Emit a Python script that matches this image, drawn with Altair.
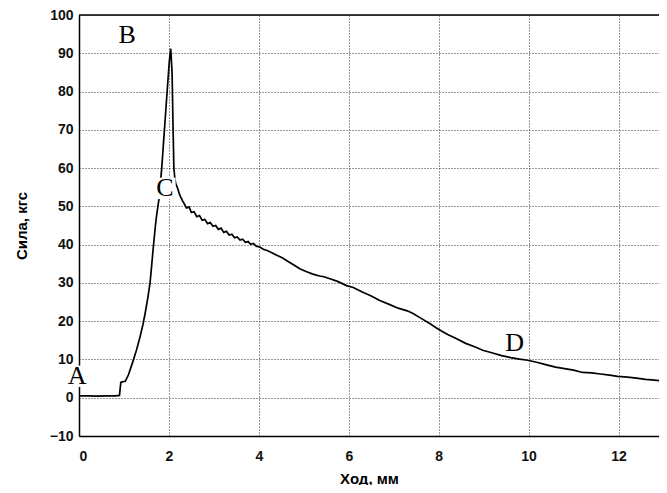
import altair as alt
import pandas as pd

# Curve data
stroke_x = [0.00, 0.20, 0.40, 0.60, 0.80, 0.90, 0.93, 0.98, 1.03, 1.10, 1.20, 1.28,
            1.36, 1.42, 1.47, 1.53, 1.58, 1.62, 1.65, 1.70, 1.73, 1.78, 1.81, 1.84,
            1.90, 1.96, 2.01, 2.04, 2.07, 2.09, 2.11, 2.13, 2.15, 2.20, 2.24, 2.30,
            2.35, 2.39, 2.45, 2.50, 2.56, 2.62, 2.68, 2.74, 2.80, 2.86, 2.92, 2.98,
            3.04, 3.10, 3.16, 3.22, 3.28, 3.34, 3.40, 3.46, 3.52, 3.58, 3.64, 3.70,
            3.76, 3.82, 3.88, 3.94, 4.02, 4.10, 4.20, 4.30, 4.40, 4.53, 4.65, 4.78,
            4.91, 5.05, 5.20, 5.35, 5.45, 5.58, 5.75, 5.95, 6.10, 6.30, 6.50, 6.69,
            6.90, 7.10, 7.30, 7.43, 7.60, 7.80, 7.95, 8.10, 8.20, 8.40, 8.60, 8.80,
            8.98, 9.20, 9.40, 9.60, 9.80, 9.98, 10.20, 10.40, 10.60, 10.80, 11.00,
            11.20, 11.40, 11.60, 11.80, 11.98, 12.20, 12.40, 12.60, 12.80, 13.07]
force_y = [0.5, 0.5, 0.4, 0.5, 0.5, 0.6, 4.0, 4.2, 4.3, 6.0, 9.5, 12.5,
           16.0, 19.0, 22.0, 26.0, 30.0, 35.0, 39.0, 45.0, 48.0, 52.0, 56.0, 60.0,
           70.0, 80.0, 88.0, 91.2, 85.0, 72.0, 60.0, 57.5, 56.0, 54.5, 53.0, 51.5,
           50.5, 49.6, 49.8, 48.4, 48.6, 47.3, 47.6, 46.4, 46.6, 45.5, 45.8, 44.8,
           45.0, 44.0, 44.3, 43.2, 43.5, 42.5, 42.7, 41.8, 42.0, 41.2, 41.4, 40.6,
           40.8, 40.1, 40.3, 39.6, 39.4, 38.8, 38.4, 37.8, 37.2, 36.5, 35.6, 34.7,
           33.7, 33.0, 32.3, 31.8, 31.6, 31.1, 30.4, 29.3, 28.8, 27.6, 26.6, 25.4,
           24.4, 23.4, 22.7, 22.0, 20.8, 19.4, 18.2, 17.2, 16.5, 15.4, 14.2, 13.3,
           12.4, 11.7, 11.0, 10.5, 10.1, 9.8, 9.2, 8.6, 8.0, 7.6, 7.2,
           6.6, 6.5, 6.2, 5.9, 5.6, 5.4, 5.1, 4.8, 4.6, 4.3]

# Point labels
label_text = ["A", "B", "C", "D"]
label_x = [-0.04, 1.07, 1.91, 9.69]
label_y = [5.6, 94.8, 54.7, 14.4]

x_ticks = [0, 2, 4, 6, 8, 10, 12]
y_ticks = [-10, 0, 10, 20, 30, 40, 50, 60, 70, 80, 90, 100]
y_top = [100]

curve = pd.DataFrame({"x": stroke_x, "y": force_y})
labels = pd.DataFrame({"t": label_text, "x": label_x, "y": label_y})
top = pd.DataFrame({"y": y_top})

xs = alt.Scale(domain=[0, 12.9], nice=False, zero=False)
ys = alt.Scale(domain=[-10, 100], nice=False)

x_axis = alt.Axis(values=x_ticks, format="d", labelPadding=13, titlePadding=8,
                  labelOverlap=False)
y_axis = alt.Axis(values=y_ticks, format="d", labelPadding=6, titlePadding=20,
                  labelOverlap=False)

x_enc = alt.X("x:Q", scale=xs, title="Ход, мм", axis=x_axis)
y_enc = alt.Y("y:Q", scale=ys, title="Сила, кгс", axis=y_axis)

line = alt.Chart(curve).mark_line(color="black", strokeWidth=1.7, clip=True).encode(
    x=x_enc, y=y_enc
)

top_rule = alt.Chart(top).mark_rule(color="black", strokeWidth=1.5).encode(
    y=y_enc
)

# white patch behind each letter (as in the reference)
patch = alt.Chart(labels).mark_square(
    size=460, color="white", opacity=1, filled=True
).encode(x=x_enc, y=y_enc)

txt = alt.Chart(labels).mark_text(
    font="Liberation Serif", fontSize=26, color="black",
    align="center", baseline="middle"
).encode(x=x_enc, y=y_enc, text="t:N")

chart = alt.layer(line, top_rule, patch, txt).properties(
    width=580, height=421,
    autosize=alt.AutoSizeParams(type="none"),
    padding={"left": 71, "top": 7, "right": 0, "bottom": 49},
).configure_view(
    strokeWidth=0
).configure_axis(
    domain=True, domainColor="black", domainWidth=1.5,
    ticks=False, labelOverlap=False,
    labelFont="Liberation Sans", labelFontSize=14, labelFontWeight="bold",
    labelColor="#111",
    titleFont="Liberation Sans", titleFontSize=15, titleFontWeight="bold",
    titleColor="black",
    grid=True, gridColor="#333", gridDash=[1, 2], gridWidth=1,
)

chart.save("out.html", embed_options={"renderer": "svg", "actions": False})
